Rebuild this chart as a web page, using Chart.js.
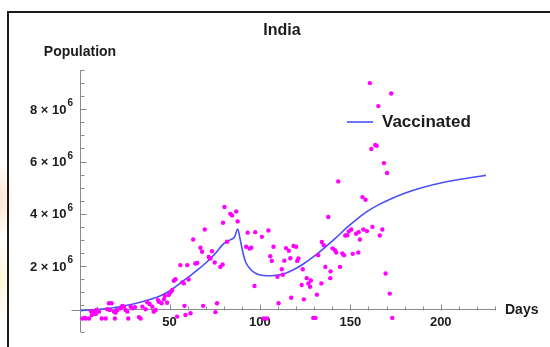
<!DOCTYPE html>
<html>
<head>
<meta charset="utf-8">
<title>India</title>
<script src="https://cdn.jsdelivr.net/npm/chart.js@4/dist/chart.umd.min.js"></script>
<style>
  html, body { margin: 0; padding: 0; }
  body {
    width: 550px; height: 347px; position: relative; overflow: hidden;
    background:
      radial-gradient(ellipse 14px 40px at 0px 200px, rgba(250, 205, 170, 0.55), rgba(250, 205, 170, 0) 100%),
      radial-gradient(ellipse 14px 45px at 0px 280px, rgba(255, 240, 190, 0.6), rgba(255, 240, 190, 0) 100%),
      #ffffff;
  }
  #frame {
    position: absolute; left: 7px; top: 11px; width: 543px; height: 336px;
    border-top: 2px solid #1b1b1b; border-left: 2px solid #1b1b1b;
    box-sizing: border-box;
  }
  #wrap { position: absolute; left: 14px; top: 0; width: 536px; height: 347px; }
</style>
</head>
<body>
<div id="frame"></div>
<div id="wrap"><canvas id="chart"></canvas></div>
<script>
// Daily vaccinations reported for India (day number, millions of doses)
const reportDays = [
  1.9, 3.2, 3.7, 5.5, 6.5, 7, 7.7, 8.5, 9.2, 9.6, 11, 12.5, 14.7, 15.6, 16.5, 17, 18, 19.3, 19.8, 20.2,
  21.2, 23, 23.9, 24.8, 25.7, 26.7, 27.2, 28.5, 29.4, 30.9, 33.1, 34, 35, 36.8, 37.7, 39, 40.5, 41.3, 42.3, 43.6,
  44.1, 45.6, 46.9, 47.4, 48.7, 49.6, 50.6, 51.5, 52.4, 53.3, 54.2,
  56, 57, 57.9, 58.3, 58.8, 59.8, 60.6, 61.6, 63.1, 64.3, 65.3, 67.1, 68, 68.6, 69.5, 71.7, 72.6, 73.5, 75,
  75.4, 76.3, 78.1, 79.4, 79.6, 80.4, 81.8, 83.6, 84.6, 86.9, 87.7, 92.4, 93.2, 94.3, 95.2, 97, 97.4, 101.1, 102, 103.9,
  104.7, 105.7, 106.6, 107.5, 109.7,
  110.3, 112.1, 112.7, 113.5, 114.4, 116, 116.8, 117.3, 118.6, 120, 120.6, 121.3, 123.1, 123.7, 124.3, 125.9, 126.8, 127.7, 128.2, 129.5,
  130.7, 131.5, 132.2, 134, 134.2, 135.3, 136.2, 137.8, 138.9, 139.1, 140.2, 141.5, 142.2, 143.3, 144.3, 145.6, 146.5, 147.2, 148.3, 149.2,
  150.5, 151.3, 153.2, 154.4, 154.6, 155.3, 156.7, 157.2, 158.4, 159.2, 160.8, 161.6, 162.2, 163.8, 164.6, 165.5, 166.3, 167.7, 168.6, 169.5,
  170.3, 171.8, 172.6, 173.2
];
const reportDoses = [
  0.0, 0.02, 0.0, 0.0, 0.28, 0.13, 0.2, 0.25, 0.17, 0.32, 0.26, 0.0, 0.0, 0.35, 0.58, 0.32, 0.58, 0.26, 0.0, 0.22,
  0.32, 0.39, 0.48, 0.45, 0.32, 0.26, 0.0, 0.45, 0.39, 0.43, 0.05, 0.0, 0.45, 0.35, 0.62, 0.55, 0.45, 0.26, 0.32, 0.7,
  0.64, 0.58, 0.73, 0.86, 0.6, 0.9, 1.0, 1.09, 1.44, 1.5, 0.07,
  2.04, 1.38, 1.34, 0.48, 0.13, 2.04, 1.49, 0.2, 3.02, 2.1, 2.12, 2.7, 2.55, 0.48, 3.4, 2.35, 2.29, 2.57, 2.14,
  0.24, 0.58, 1.97, 2.06, 3.66, 4.26, 2.93, 4.0, 3.94, 4.09, 3.71, 2.74, 3.28, 2.67, 2.7, 1.24, 3.3, 3.12, 0.0, 0.0,
  3.36, 2.38, 2.2, 2.74, 1.59,
  0.58, 1.88, 1.67, 2.21, 2.69, 2.59, 2.3, 0.79, 2.77, 2.74, 2.2, 2.29, 1.28, 1.88, 0.73, 1.54, 1.34, 1.21, 1.45, 0.02,
  0.02, 0.91, 2.42, 1.34, 2.92, 2.8, 1.97, 3.88, 1.54, 1.8, 2.68, 2.61, 2.52, 5.24, 1.97, 2.48, 2.42, 3.17, 3.18, 3.33,
  3.4, 2.47, 3.24, 2.52, 3.3, 3.02, 4.64, 3.4, 4.54, 3.34, 9.0, 6.48, 3.5, 6.63, 6.6, 8.12, 3.17, 3.4, 5.94, 1.72,
  5.56, 0.95, 8.6, 0.02
];

// Fitted "Vaccinated" curve (day number, millions)
const fitDays = [
  1, 10, 20, 30, 40, 45, 50, 55, 60, 65, 70, 75, 80, 84, 86, 87.7, 89, 90.5, 92, 94.5,
  97, 100, 104, 108, 113, 118, 124, 130, 136, 142, 148, 154, 160, 166, 172, 180, 190, 200, 210, 218, 225
];
const fitVaccinated = [
  0.3, 0.34, 0.42, 0.55, 0.74, 0.87, 1.05, 1.3, 1.56, 1.83, 2.12, 2.46, 2.86, 3.02, 3.12, 3.42, 3.05, 2.55, 2.18, 1.9,
  1.75, 1.66, 1.63, 1.64, 1.7, 1.84, 2.08, 2.38, 2.72, 3.08, 3.47, 3.82, 4.12, 4.36, 4.56, 4.79, 5.01, 5.18, 5.31, 5.4, 5.47
];

// Axis ticks
const dayTickLabels = [50, 100, 150, 200];
const populationTickMillions = [2, 4, 6, 8];
const xAxisCrossing = 330000;   // height at which the Days axis crosses

const FONT = "'Liberation Sans', Arial, Helvetica, sans-serif";
const AXIS_GREY = '#8a8a8a';
const TEXT = '#1c1c1c';

const scatterPoints = reportDays.map((d, i) => ({ x: d, y: reportDoses[i] * 1e6 }));
const fitPoints = fitDays.map((d, i) => ({ x: d, y: fitVaccinated[i] * 1e6 }));

// Tick marks pointing into the plot, "m × 10^6" labels, axis names, title and an inset legend
const axisDecor = {
  id: 'axisDecor',
  beforeDatasetsDraw(chart) {
    const { ctx, scales: { x, y } } = chart;
    const axisY = Math.round(y.getPixelForValue(xAxisCrossing)) + 0.5;
    const axisX = Math.round(x.left) + 0.5;
    ctx.save();
    ctx.strokeStyle = AXIS_GREY;
    ctx.lineWidth = 1;
    ctx.beginPath();
    ctx.moveTo(axisX - 9, axisY);
    ctx.lineTo(axisX, axisY);
    x.ticks.forEach(t => {
      if (t.value % 10 !== 0 || t.value <= 0) return;
      const px = Math.round(x.getPixelForValue(t.value)) + 0.5;
      const len = t.value % 50 === 0 ? 6 : 4;
      ctx.moveTo(px, axisY);
      ctx.lineTo(px, axisY - len);
    });
    y.ticks.forEach(t => {
      const py = Math.round(y.getPixelForValue(t.value)) + 0.5;
      const len = t.value % 2000000 === 0 ? 6 : 4;
      ctx.moveTo(axisX, py);
      ctx.lineTo(axisX + len, py);
    });
    ctx.stroke();

    // population tick labels with a raised exponent
    ctx.fillStyle = TEXT;
    populationTickMillions.forEach(m => {
      const py = y.getPixelForValue(m * 1e6);
      const right = y.right - 7;
      ctx.font = `bold 10px ${FONT}`;
      ctx.textAlign = 'right';
      ctx.textBaseline = 'alphabetic';
      const expW = ctx.measureText('6').width;
      ctx.fillText('6', right, py - 3);
      ctx.font = `bold 13px ${FONT}`;
      ctx.textBaseline = 'middle';
      ctx.fillText(`${m} × 10`, right - expW - 1, py + 1);
    });
    ctx.restore();
  },
  afterDatasetsDraw(chart) {
    const { ctx, scales: { x, y }, chartArea } = chart;
    const axisY = y.getPixelForValue(xAxisCrossing);
    ctx.save();
    ctx.fillStyle = TEXT;
    ctx.textBaseline = 'middle';
    ctx.textAlign = 'center';
    ctx.font = `bold 16px ${FONT}`;
    ctx.fillText('India', chart.width / 2, 31);
    ctx.font = `bold 14px ${FONT}`;
    ctx.fillText('Population', chartArea.left, chartArea.top - 18);
    ctx.textAlign = 'left';
    ctx.fillText('Days', x.right + 10, axisY);

    // legend entry for the fitted curve
    const fit = chart.data.datasets[1];
    const lx = chartArea.left + 267;
    const ly = chartArea.top + 52;
    ctx.strokeStyle = fit.borderColor;
    ctx.lineWidth = fit.borderWidth;
    ctx.beginPath();
    ctx.moveTo(lx, ly);
    ctx.lineTo(lx + 26, ly);
    ctx.stroke();
    ctx.font = `bold 17px ${FONT}`;
    ctx.fillText(fit.label, lx + 35, ly);
    ctx.restore();
  }
};

new Chart(document.getElementById('chart'), {
  data: {
    datasets: [
      {
        type: 'scatter',
        label: 'Daily doses',
        data: scatterPoints,
        backgroundColor: '#ff00ff',
        borderWidth: 0,
        pointRadius: 2.2,
        pointHoverRadius: 2.2,
        order: 0
      },
      {
        type: 'line',
        label: 'Vaccinated',
        data: fitPoints,
        borderColor: '#4b50f5',
        borderWidth: 1.6,
        pointRadius: 0,
        fill: false,
        cubicInterpolationMode: 'monotone',
        order: 1
      }
    ]
  },
  options: {
    responsive: true,
    maintainAspectRatio: false,
    animation: false,
    devicePixelRatio: 1,
    layout: { padding: { top: 70, left: 0, right: 55, bottom: 15.5 } },
    plugins: {
      legend: { display: false },
      tooltip: { enabled: false },
      title: { display: false }
    },
    scales: {
      x: {
        type: 'linear',
        position: { y: xAxisCrossing },
        min: 0.5,
        max: 230,
        grid: { display: true, drawOnChartArea: false, drawTicks: false },
        border: { display: true, color: AXIS_GREY, width: 1 },
        ticks: {
          stepSize: 10,
          autoSkip: false,
          includeBounds: false,
          maxRotation: 0,
          padding: 5,
          color: TEXT,
          font: { family: FONT, size: 13, weight: 'bold' },
          callback: v => dayTickLabels.includes(v) ? String(v) : ''
        }
      },
      y: {
        type: 'linear',
        position: 'left',
        min: -500000,
        max: 9500000,
        afterFit: s => { s.width = 66; },
        grid: { display: true, drawOnChartArea: false, drawTicks: false },
        border: { display: true, color: AXIS_GREY, width: 1 },
        ticks: {
          stepSize: 500000,
          autoSkip: false,
          includeBounds: false,
          display: false
        }
      }
    }
  },
  plugins: [axisDecor]
});
</script>
</body>
</html>
